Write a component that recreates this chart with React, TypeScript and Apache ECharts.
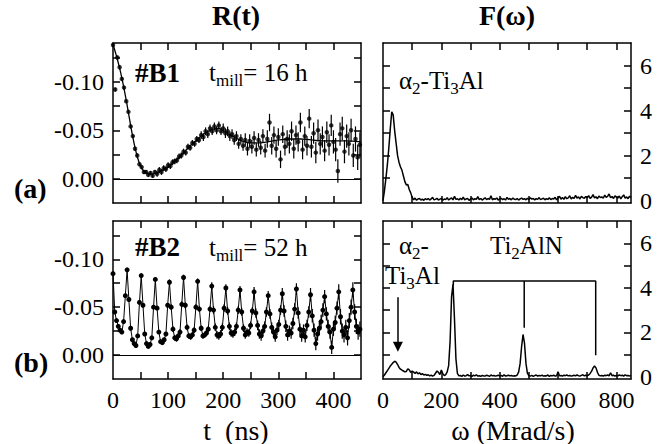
import React, { useEffect, useRef } from "react";
import * as echarts from "echarts";

const FONT = "Liberation Serif";

// ---- R(t) #B1 (t step 4 ns) ----
const b1Step = 4;
const b1Values = [
  -0.138, -0.092, -0.125, -0.115, -0.103, -0.094, -0.080, -0.069, -0.054, -0.044,
  -0.031, -0.024, -0.015, -0.012, -0.007, -0.007, -0.004, -0.006, -0.003, -0.007,
  -0.005, -0.009, -0.007, -0.011, -0.010, -0.014, -0.013, -0.017, -0.018, -0.019,
  -0.023, -0.024, -0.028, -0.027, -0.033, -0.032, -0.037, -0.036, -0.041, -0.040,
  -0.045, -0.043, -0.049, -0.046, -0.052, -0.049, -0.054, -0.050, -0.055, -0.049,
  -0.052, -0.047, -0.049, -0.044, -0.046, -0.040, -0.044, -0.036, -0.041, -0.034,
  -0.040, -0.031, -0.039, -0.033, -0.042, -0.030, -0.040, -0.032, -0.044, -0.029,
  -0.041, -0.058, -0.034, -0.045, -0.031, -0.043, -0.020, -0.046, -0.033, -0.041,
  -0.036, -0.049, -0.031, -0.045, -0.038, -0.058, -0.030, -0.044, -0.034, -0.062,
  -0.033, -0.047, -0.027, -0.050, -0.036, -0.043, -0.029, -0.048, -0.035, -0.055,
  -0.038, -0.030, -0.008, -0.046, -0.052, -0.028, -0.044, -0.036, -0.050, -0.024,
  -0.041, -0.022, -0.035,
];
const b1ErrBy40ns = [0.002, 0.002, 0.003, 0.003, 0.004, 0.005, 0.007, 0.009, 0.010, 0.011, 0.012, 0.013];
const b1FitT = [0, 4, 8, 12, 16, 20, 24, 28, 32, 36, 40, 44, 48, 52, 56, 60, 66, 72, 80, 90, 100, 110, 120, 130, 140, 150, 160, 170, 180, 190, 200, 210, 220, 230, 240, 250, 260, 280, 300, 320, 340, 360, 380, 400, 420, 450];
const b1FitR = [
  -0.139, -0.131, -0.123, -0.114, -0.104, -0.093, -0.081, -0.068, -0.055, -0.043,
  -0.032, -0.023, -0.016, -0.011, -0.008, -0.006, -0.005, -0.005, -0.006, -0.009,
  -0.012, -0.017, -0.022, -0.028, -0.034, -0.039, -0.044, -0.048, -0.051, -0.052,
  -0.050, -0.046, -0.043, -0.040, -0.038, -0.037, -0.037, -0.038, -0.040, -0.041,
  -0.041, -0.040, -0.039, -0.039, -0.039, -0.038,
];

// ---- R(t) #B2 (t step 3.2 ns) ----
const b2Step = 3.2;
const b2Values = [
  -0.085, -0.045, -0.036, -0.030, -0.026, -0.024, -0.035, -0.062,
  -0.089, -0.058, -0.028, -0.016, -0.012, -0.010, -0.020, -0.055,
  -0.083, -0.052, -0.022, -0.012, -0.009, -0.011, -0.018, -0.050,
  -0.079, -0.049, -0.024, -0.014, -0.013, -0.016, -0.022, -0.052,
  -0.076, -0.050, -0.027, -0.018, -0.017, -0.020, -0.024, -0.053,
  -0.081, -0.052, -0.029, -0.020, -0.019, -0.021, -0.026, -0.050,
  -0.077, -0.048, -0.028, -0.020, -0.021, -0.023, -0.027, -0.048,
  -0.072, -0.047, -0.029, -0.021, -0.020, -0.022, -0.029, -0.049,
  -0.070, -0.046, -0.030, -0.023, -0.022, -0.024, -0.030, -0.047,
  -0.068, -0.045, -0.028, -0.021, -0.024, -0.023, -0.031, -0.046,
  -0.066, -0.044, -0.031, -0.022, -0.020, -0.025, -0.030, -0.045,
  -0.062, -0.043, -0.029, -0.024, -0.019, -0.026, -0.032, -0.047,
  -0.064, -0.046, -0.030, -0.021, -0.025, -0.023, -0.033, -0.048,
  -0.069, -0.044, -0.027, -0.020, -0.026, -0.019, -0.031, -0.045,
  -0.063, -0.041, -0.026, -0.012, -0.022, -0.028, -0.035, -0.047,
  -0.061, -0.043, -0.030, -0.024, -0.008, -0.027, -0.034, -0.049,
  -0.066, -0.040, -0.025, -0.021, -0.029, -0.018, -0.036, -0.050,
  -0.068, -0.045, -0.030, -0.024, -0.027,
];
const b2ErrByPeriod = [0.002, 0.002, 0.002, 0.002, 0.003, 0.003, 0.003, 0.004, 0.004, 0.004, 0.005, 0.005, 0.006, 0.006, 0.007, 0.007, 0.008, 0.008];

// ---- F(omega) (omega step 5 Mrad/s) ----
const fStep = 5;
const fTopValues = [
  0.0, 0.45, 1.0, 1.6, 2.35, 3.2, 3.95, 3.8, 3.1, 2.55,
  2.0, 1.7, 1.5, 1.35, 1.1, 0.85, 0.7, 0.72, 0.5, 0.35,
  0.15, 0.04, 0.12, 0.02, 0.08, 0.1, 0.03, 0.07, 0.02, 0.09,
  0.05, 0.1, 0.03, 0.08, 0.15, 0.04, 0.06, 0.11, 0.03, 0.07,
  0.1, 0.02, 0.08, 0.05, 0.14, 0.03, 0.09, 0.12, 0.04, 0.2,
  0.06, 0.09, 0.03, 0.11, 0.05, 0.16, 0.04, 0.08, 0.1, 0.02,
  0.07, 0.12, 0.04, 0.09, 0.06, 0.18, 0.05, 0.1, 0.03, 0.08,
  0.13, 0.05, 0.1, 0.06, 0.22, 0.04, 0.09, 0.07, 0.12, 0.03,
  0.08, 0.11, 0.05, 0.09, 0.03, 0.15, 0.06, 0.1, 0.04, 0.12,
  0.07, 0.05, 0.1, 0.03, 0.08, 0.12, 0.06, 0.09, 0.04, 0.11,
  0.05, 0.13, 0.07, 0.1, 0.04, 0.09, 0.06, 0.14, 0.05, 0.08,
  0.11, 0.04, 0.09, 0.06, 0.13, 0.05, 0.1, 0.08, 0.15, 0.04,
  0.12, 0.2, 0.07, 0.14, 0.06, 0.18, 0.09, 0.13, 0.22, 0.08,
  0.15, 0.1, 0.24, 0.12, 0.17, 0.08, 0.2, 0.14, 0.11, 0.19,
  0.13, 0.23, 0.1, 0.16, 0.27, 0.12, 0.18, 0.09, 0.21, 0.14,
  0.17, 0.11, 0.25, 0.15, 0.2, 0.3, 0.13, 0.19, 0.1, 0.22,
  0.16, 0.12, 0.21, 0.08, 0.18, 0.26, 0.11, 0.17, 0.09, 0.2,
  0.14,
];
const fBotValues = [
  0.0, 0.08, 0.18, 0.28, 0.38, 0.48, 0.56, 0.64, 0.7, 0.66,
  0.55, 0.42, 0.34, 0.3, 0.26, 0.22, 0.24, 0.36, 0.31, 0.2,
  0.26, 0.21, 0.15, 0.22, 0.13, 0.18, 0.1, 0.14, 0.08, 0.11,
  0.06, 0.09, 0.04, 0.07, 0.03, 0.06, 0.16, 0.26, 0.2, 0.1,
  0.3, 0.14, 0.05, 0.1, 0.22, 0.5, 1.6, 3.6, 4.15, 2.6,
  0.8, 0.15, 0.04, 0.06, 0.02, 0.08, 0.03, 0.05, 0.1, 0.04,
  0.06, 0.02, 0.07, 0.04, 0.09, 0.03, 0.05, 0.02, 0.06, 0.04,
  0.03, 0.07, 0.05, 0.02, 0.08, 0.04, 0.06, 0.03, 0.05, 0.07,
  0.04, 0.06, 0.02, 0.09, 0.03, 0.05, 0.07, 0.04, 0.06, 0.03,
  0.05, 0.04, 0.08, 0.22, 0.6, 1.35, 1.9, 1.5, 0.6, 0.15,
  0.05, 0.03, 0.06, 0.02, 0.05, 0.08, 0.03, 0.06, 0.04, 0.07,
  0.03, 0.05, 0.04, 0.08, 0.02, 0.06, 0.04, 0.07, 0.03, 0.05,
  0.22, 0.04, 0.06, 0.03, 0.07, 0.05, 0.08, 0.04, 0.06, 0.03,
  0.05, 0.07, 0.04, 0.08, 0.05, 0.03, 0.06, 0.09, 0.04, 0.07,
  0.05, 0.08, 0.15, 0.25, 0.4, 0.48, 0.4, 0.2, 0.07, 0.04,
  0.06, 0.03, 0.07, 0.05, 0.08, 0.04, 0.18, 0.05, 0.07, 0.03,
  0.06, 0.04, 0.08, 0.05, 0.07, 0.03, 0.09, 0.05, 0.06, 0.04,
  0.05,
];

// Ti2AlN bracket and alpha2 arrow (data units)
const bracketMain = [[241, 4.1], [241, 4.3], [729, 4.3], [729, 0.97]];
const bracketMid = [[484, 4.3], [484, 2.2]];
const arrowOmega = 51;
const arrowFrom = 3.57;
const arrowTo = 1.35;

// axis ticks / labels
const tTicks = [50, 100, 150, 200, 250, 300, 350, 400];
const tLabels = [0, 100, 200, 300, 400];
const rTicks = [-0.125, -0.1, -0.075, -0.05, -0.025, 0];
const rLabels = [-0.1, -0.05, 0];
const wTicks = [100, 200, 300, 400, 500, 600, 700, 800];
const wLabels = [0, 200, 400, 600, 800];
const fTicks = [1, 2, 3, 4, 5, 6];
const fLabels = [0, 2, 4, 6];

const LINE = { color: "#000", width: 1.5 };

function axis(gridIndex: number, position: string, min: number, max: number, ticks: number[], labels: number[], showLabels: boolean, extra: any = {}) {
  return {
    type: "value",
    gridIndex,
    position,
    min,
    max,
    axisLine: { show: true, onZero: false, lineStyle: LINE },
    axisTick: { show: true, inside: true, length: 7, customValues: ticks, lineStyle: LINE },
    axisLabel: {
      show: showLabels,
      customValues: labels,
      color: "#000",
      fontSize: 24,
      fontFamily: FONT,
      margin: 9,
      ...(extra.formatter ? { formatter: extra.formatter } : {}),
    },
    splitLine: { show: false },
    inverse: !!extra.inverse,
  };
}

function errRender(params: any, api: any) {
  const x = api.value(0);
  const y = api.value(1);
  const e = api.value(2);
  const p1 = api.coord([x, y - e]);
  const p2 = api.coord([x, y + e]);
  return {
    type: "line",
    shape: { x1: p1[0], y1: p1[1], x2: p2[0], y2: p2[1] },
    style: { stroke: "#000", lineWidth: 1.2 },
  };
}

let measureCtx: CanvasRenderingContext2D | null = null;
function measure(text: string, font: string) {
  if (!measureCtx) measureCtx = document.createElement("canvas").getContext("2d");
  if (!measureCtx) return text.length * 10;
  measureCtx.font = font;
  return measureCtx.measureText(text).width;
}

// parts: [text, isSubscript]
function subText(x: number, y: number, parts: [string, boolean][], size: number) {
  const els: any[] = [];
  let cx = x;
  const subSize = Math.round(size * 0.68);
  for (const [t, sub] of parts) {
    const font = `${sub ? subSize : size}px ${FONT}`;
    els.push({
      type: "text",
      x: cx,
      y: sub ? y + size * 0.33 : y,
      style: {
        text: t,
        font,
        align: "left",
        verticalAlign: "middle",
        textAlign: "left",
        textVerticalAlign: "middle",
        fill: "#000",
      },
    });
    cx += measure(t, font);
  }
  return els;
}

function plainText(x: number, y: number, text: string, size: number, bold: boolean, align = "left") {
  return {
    type: "text",
    x,
    y,
    style: {
      text,
      font: `${bold ? "bold " : ""}${size}px ${FONT}`,
      align,
      verticalAlign: "middle",
      textAlign: align,
      textVerticalAlign: "middle",
      fill: "#000",
    },
  };
}

export default function App() {
  const ref = useRef<HTMLDivElement>(null);
  useEffect(() => {
    if (!ref.current) return;
    const chart = echarts.init(ref.current, null, { renderer: "svg" });

    const b1Data = b1Values.map((v, i) => [i * b1Step, v]);
    const b1Err = b1Values.map((v, i) => [i * b1Step, v, b1ErrBy40ns[Math.floor((i * b1Step) / 40)]]);
    const b1Fit = b1FitT.map((t, i) => [t, b1FitR[i]]);
    const b2Data = b2Values.map((v, i) => [i * b2Step, v]);
    const b2Err = b2Values.map((v, i) => [i * b2Step, v, b2ErrByPeriod[Math.floor(i / 8)]]);
    const fTop = fTopValues.map((v, i) => [i * fStep, v]);
    const fBot = fBotValues.map((v, i) => [i * fStep, v]);

    const rFmt = (v: number) => v.toFixed(2);

    const option: any = {
      animation: false,
      backgroundColor: "#fff",
      textStyle: { fontFamily: FONT },
      grid: [
        { left: 113, top: 43, width: 248, height: 160 },
        { left: 113, top: 221, width: 248, height: 158 },
        { left: 383, top: 43, width: 248, height: 160 },
        { left: 383, top: 221, width: 248, height: 158 },
      ],
      xAxis: [
        axis(0, "bottom", 0, 450, tTicks, tLabels, false),
        axis(0, "top", 0, 450, tTicks, tLabels, false),
        axis(1, "bottom", 0, 450, tTicks, tLabels, true),
        axis(1, "top", 0, 450, tTicks, tLabels, false),
        axis(2, "bottom", 0, 850, wTicks, wLabels, false),
        axis(2, "top", 0, 850, wTicks, wLabels, false),
        axis(3, "bottom", 0, 850, wTicks, wLabels, true),
        axis(3, "top", 0, 850, wTicks, wLabels, false),
      ],
      yAxis: [
        axis(0, "left", -0.14, 0.025, rTicks, rLabels, true, { inverse: true, formatter: rFmt }),
        axis(0, "right", -0.14, 0.025, rTicks, rLabels, false, { inverse: true }),
        axis(1, "left", -0.14, 0.025, rTicks, rLabels, true, { inverse: true, formatter: rFmt }),
        axis(1, "right", -0.14, 0.025, rTicks, rLabels, false, { inverse: true }),
        axis(2, "right", -0.1, 7, fTicks, fLabels, true),
        axis(2, "left", -0.1, 7, fTicks, fLabels, false),
        axis(3, "right", -0.1, 7, fTicks, fLabels, true),
        axis(3, "left", -0.1, 7, fTicks, fLabels, false),
      ],
      series: [
        {
          type: "custom",
          xAxisIndex: 0,
          yAxisIndex: 0,
          renderItem: errRender,
          data: b1Err,
          encode: { x: 0, y: 1 },
          silent: true,
        },
        {
          type: "scatter",
          xAxisIndex: 0,
          yAxisIndex: 0,
          data: b1Data,
          symbol: "circle",
          symbolSize: 4.5,
          itemStyle: { color: "#000" },
          silent: true,
        },
        {
          type: "line",
          xAxisIndex: 0,
          yAxisIndex: 0,
          data: b1Fit,
          smooth: true,
          showSymbol: false,
          symbol: "none",
          lineStyle: { color: "#000", width: 1.3 },
          silent: true,
          markLine: {
            silent: true,
            symbol: "none",
            label: { show: false },
            lineStyle: { color: "#000", type: "solid", width: 1.2 },
            data: [{ yAxis: 0 }],
          },
        },
        {
          type: "custom",
          xAxisIndex: 2,
          yAxisIndex: 2,
          renderItem: errRender,
          data: b2Err,
          encode: { x: 0, y: 1 },
          silent: true,
        },
        {
          type: "line",
          xAxisIndex: 2,
          yAxisIndex: 2,
          data: b2Data,
          symbol: "circle",
          symbolSize: 5,
          showSymbol: true,
          itemStyle: { color: "#000" },
          lineStyle: { color: "#000", width: 1 },
          silent: true,
          markLine: {
            silent: true,
            symbol: "none",
            label: { show: false },
            lineStyle: { color: "#000", type: "solid", width: 1.2 },
            data: [{ yAxis: 0 }],
          },
        },
        {
          type: "line",
          xAxisIndex: 4,
          yAxisIndex: 4,
          data: fTop,
          symbol: "none",
          lineStyle: { color: "#000", width: 1.5 },
          silent: true,
        },
        {
          type: "line",
          xAxisIndex: 6,
          yAxisIndex: 6,
          data: fBot,
          symbol: "none",
          lineStyle: { color: "#000", width: 1.5 },
          silent: true,
          markLine: {
            silent: true,
            symbol: ["none", "triangle"],
            symbolSize: 10,
            label: { show: false },
            lineStyle: { color: "#000", type: "solid", width: 1.5 },
            data: [[{ coord: [arrowOmega, arrowFrom] }, { coord: [arrowOmega, arrowTo] }]],
          },
        },
        {
          type: "line",
          xAxisIndex: 6,
          yAxisIndex: 6,
          data: bracketMain,
          symbol: "none",
          lineStyle: { color: "#000", width: 1.5 },
          silent: true,
        },
        {
          type: "line",
          xAxisIndex: 6,
          yAxisIndex: 6,
          data: bracketMid,
          symbol: "none",
          lineStyle: { color: "#000", width: 1.5 },
          silent: true,
        },
      ],
      graphic: [
        plainText(236, 15, "R(t)", 28, true, "center"),
        plainText(507, 15, "F(\u03c9)", 28, true, "center"),
        plainText(135, 73, "#B1", 27, true),
        ...subText(209, 72, [["t", false], ["mill", true], ["= 16 h", false]], 25),
        plainText(14, 188, "(a)", 28, true),
        plainText(135, 247, "#B2", 27, true),
        ...subText(209, 247, [["t", false], ["mill", true], ["= 52 h", false]], 25),
        plainText(14, 362, "(b)", 28, true),
        plainText(236, 430, "t  (ns)", 28, false, "center"),
        plainText(513, 430, "\u03c9 (Mrad/s)", 28, false, "center"),
        ...subText(399, 80, [["\u03b1", false], ["2", true], ["-Ti", false], ["3", true], ["Al", false]], 25),
        ...subText(399, 245, [["\u03b1", false], ["2", true], ["-", false]], 25),
        ...subText(385, 275, [["Ti", false], ["3", true], ["Al", false]], 25),
        ...subText(490, 245, [["Ti", false], ["2", true], ["AlN", false]], 25),
      ],
    };
    chart.setOption(option);
    return () => chart.dispose();
  }, []);
  return (
    <div
      ref={ref}
      style={{ position: "fixed", left: 0, top: 0, width: 672, height: 444, background: "#fff" }}
    />
  );
}
